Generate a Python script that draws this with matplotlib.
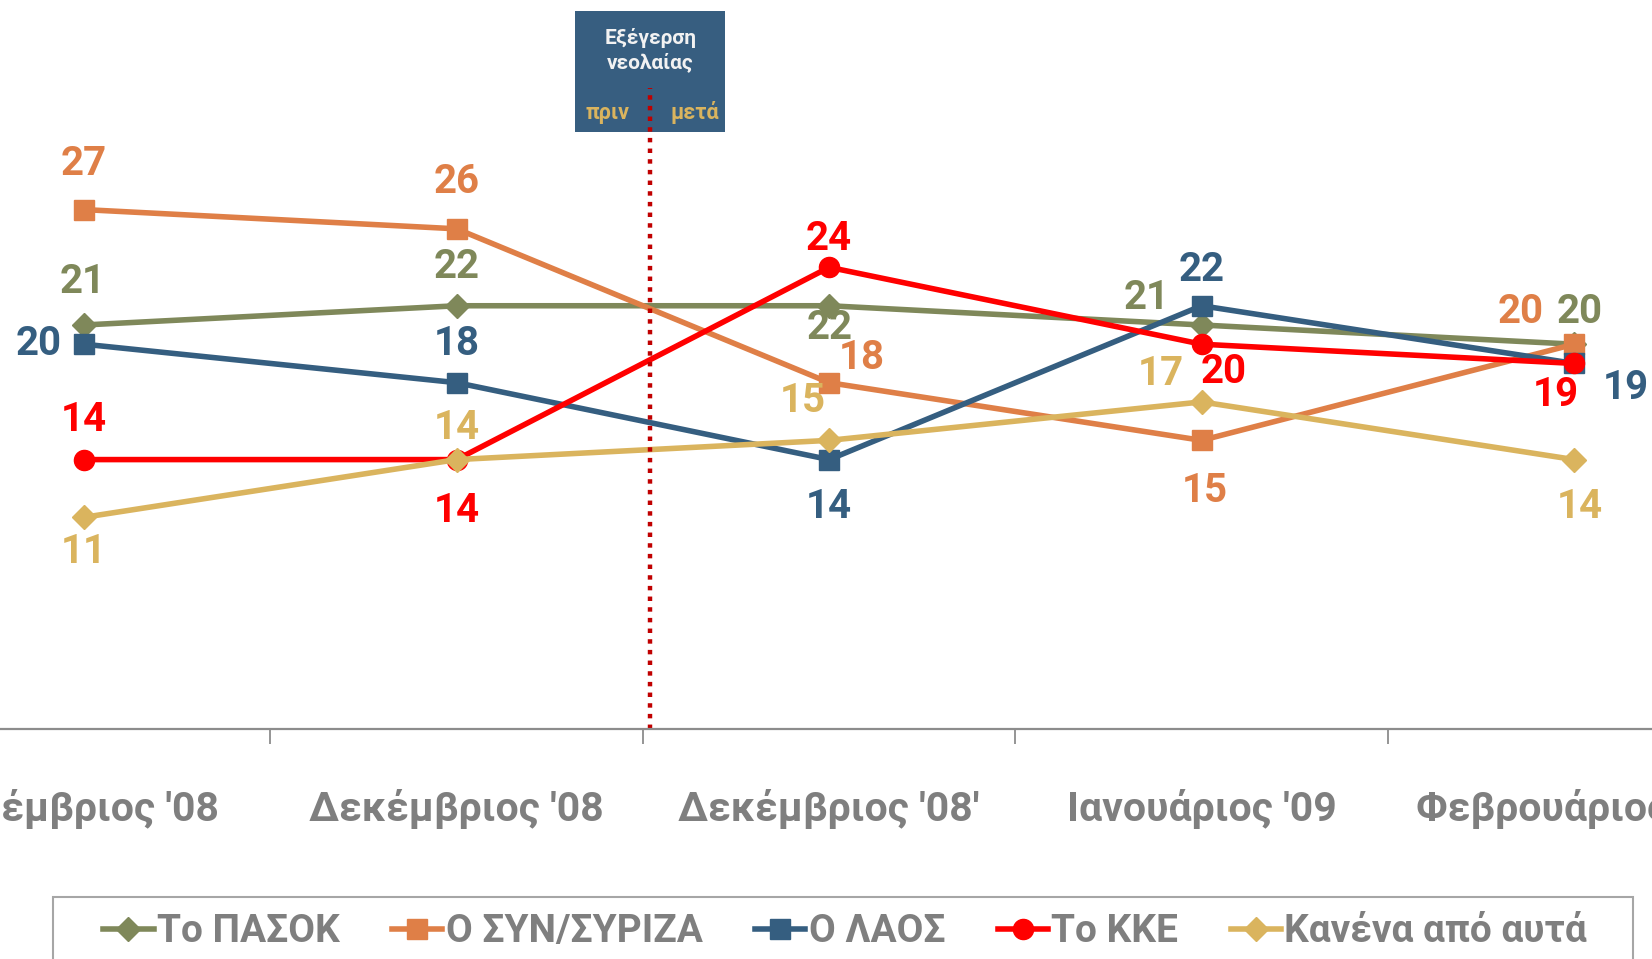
import matplotlib
matplotlib.use('Agg')
import matplotlib.pyplot as plt
from matplotlib.patches import Rectangle

plt.rcParams['font.family'] = ['Roboto', 'DejaVu Sans']

# δεδομένα
months = ["Νοέμβριος '08", "Δεκέμβριος '08", "Δεκέμβριος '08'", "Ιανουάριος '09", "Φεβρουάριος '09"]
series_names = ['Το ΠΑΣΟΚ', 'Ο ΣΥΝ/ΣΥΡΙΖΑ', 'Ο ΛΑΟΣ', 'Το ΚΚΕ', 'Κανένα από αυτά']
pasok = [21, 22, 22, 21, 20]
syriza = [27, 26, 18, 15, 20]
laos = [20, 18, 14, 22, 19]
kke = [14, 14, 24, 20, 19]
kanena = [11, 14, 15, 17, 14]

colors = ['#7F885A', '#DF7F47', '#355E80', '#FF0000', '#DAB45E']
markers = ['D', 's', 's', 'o', 'D']
msizes = [12.5, 14, 14, 14.5, 12.5]

# θέσεις ετικετών (offset σε pixels)
offsets = [
    [(-2, 43), (0, 39), (0, -22), (-55, 27), (6, 32)],
    [(0, 46), (0, 47), (33, 25), (3, -51), (-53, 32)],
    [(-45, 0), (0, 39), (0, -47), (0, 36), (52, -25)],
    [(0, 40), (0, -51), (0, 28), (22, -28), (-18, -32)],
    [(0, -35), (0, 32), (-26, 39), (-41, 28), (6, -47)],
]

fig = plt.figure(figsize=(16.52, 9.59), dpi=100)
ax = fig.add_axes([0, 1 - 728.8 / 959, 1, 728.8 / 959])

x = list(range(len(months)))
data = [pasok, syriza, laos, kke, kanena]
handles = []
for vals, name, c, m, ms, offs in zip(data, series_names, colors, markers, msizes, offsets):
    ln, = ax.plot(x, vals, color=c, lw=4, marker=m, ms=ms, label=name, clip_on=False)
    handles.append(ln)
    for xi, v, (dx, dy) in zip(x, vals, offs):
        ax.annotate(str(v), (xi, v), xytext=(dx, dy), textcoords='offset pixels',
                    ha='center', va='center', fontsize=29, fontweight='bold', color=c)

ax.set_xlim(-0.226, 4.209)
ax.set_ylim(0, 37.9)

for s in ['top', 'right', 'left']:
    ax.spines[s].set_visible(False)
ax.spines['bottom'].set_color('#8C8C8C')
ax.spines['bottom'].set_linewidth(1.6)
ax.set_yticks([])

ax.set_xticks([0.5, 1.5, 2.5, 3.5])
ax.set_xticklabels([])
ax.tick_params(axis='x', which='major', length=11, width=1.3, color='#8C8C8C', direction='out')
ax.set_xticks(x, minor=True)
ax.set_xticklabels(months, minor=True, fontsize=29.5, fontweight='bold', color='#7F7F7F')
ax.tick_params(axis='x', which='minor', length=0, pad=43)

# γεγονός: Εξέγερση νεολαίας
ev = 1.52
box = Rectangle((ev - 0.2013, 31.05), 0.4026, 6.3, facecolor='#375E80', edgecolor='none',
                clip_on=False, zorder=1)
ax.add_patch(box)
ax.plot([ev, ev], [0, 33.3], color='#C00000', lw=3.2, linestyle=(0, (1, 1.4)), zorder=2, clip_on=False)
ax.text(ev, 35.3, 'Εξέγερση\nνεολαίας', ha='center', va='center', fontsize=15,
        fontweight='bold', color='#F2F2F2', linespacing=1.3, zorder=3)
ax.text(ev - 0.114, 32.04, 'πριν', ha='center', va='center', fontsize=15.5,
        fontweight='bold', color='#DAB45E', zorder=3)
ax.text(ev + 0.119, 32.04, 'μετά', ha='center', va='center', fontsize=15.5,
        fontweight='bold', color='#DAB45E', zorder=3)

# υπόμνημα
fig.patches.append(Rectangle((53 / 1652, -0.05), 1580 / 1652, 0.05 + 1 - 897 / 959,
                             transform=fig.transFigure, facecolor='none',
                             edgecolor='#A6A6A6', lw=1.5))
leg = fig.legend(handles=handles, loc='center', bbox_to_anchor=(845 / 1652, 1 - 932 / 959),
                 ncol=5, frameon=False, fontsize=28, handlelength=1.3, handletextpad=0.08,
                 columnspacing=1.35, borderpad=0)
for t in leg.get_texts():
    t.set_color('#7F7F7F')
    t.set_fontweight('bold')

fig.savefig('out.png', dpi=100)
